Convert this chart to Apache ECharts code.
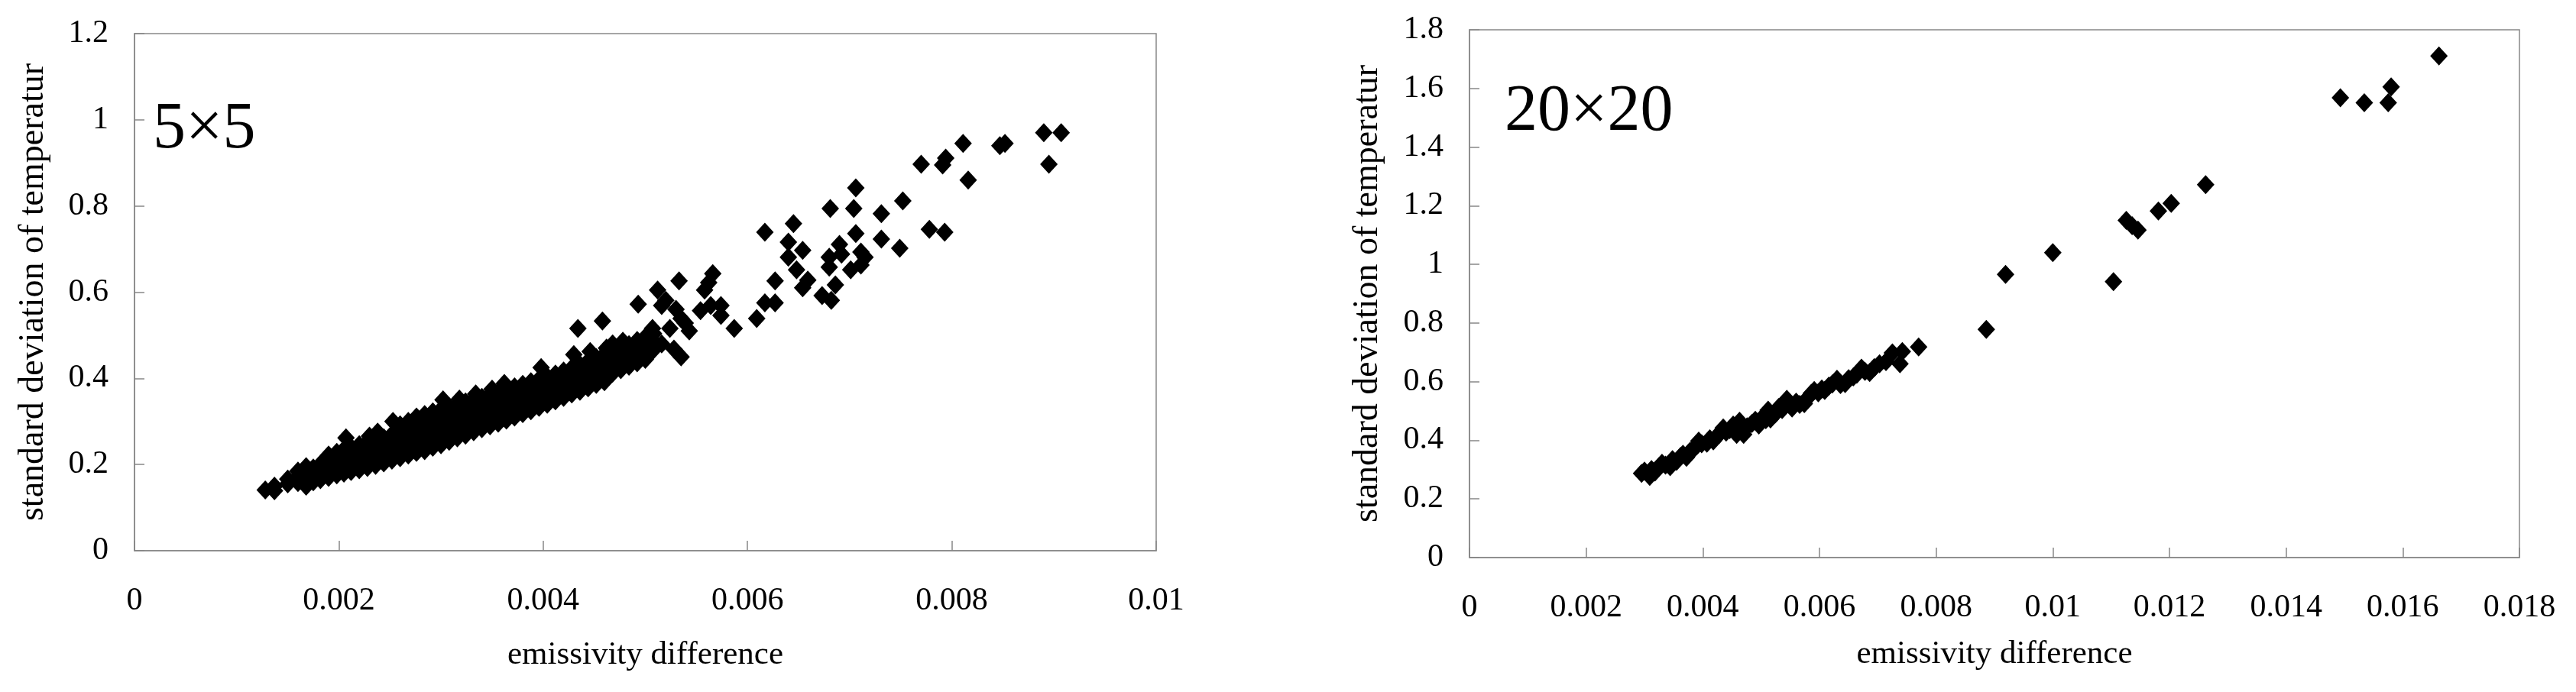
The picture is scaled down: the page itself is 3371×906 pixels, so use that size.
<!DOCTYPE html>
<html>
<head>
<meta charset="utf-8">
<title>emissivity difference - standard deviation of temperature</title>
<script src="https://cdn.jsdelivr.net/npm/echarts/dist/echarts.min.js"></script>
<style>
  html, body { margin: 0; padding: 0; background: #fff; }
  #chart { width: 3371px; height: 906px; }
</style>
</head>
<body>
<div id="chart"></div>
<script type="text/javascript">
var FONT = '"Liberation Serif", "Times New Roman", serif';

var panelLabels = ['5×5', '20×20'];
var xTitle = 'emissivity difference';
var yTitle = 'standard deviation of temperature';
var xMax = [0.01, 0.018];
var yMax = [1.2, 1.8];
var xStep = 0.002;
var yStep = 0.2;

// 5x5 : dense band
var band5 = [
  [0.00128,0.141],[0.00137,0.139],[0.00137,0.150],[0.00150,0.155],[0.00150,0.166],
  [0.00160,0.158],[0.00160,0.172],[0.00160,0.185],[0.00168,0.150],[0.00168,0.168],[0.00168,0.195],
  [0.00175,0.160],[0.00175,0.178],[0.00175,0.192],[0.00182,0.165],[0.00182,0.181],[0.00182,0.201],
  [0.00190,0.170],[0.00190,0.188],[0.00190,0.205],[0.00190,0.222],
  [0.00198,0.176],[0.00198,0.192],[0.00198,0.210],[0.00198,0.228],
  [0.00205,0.180],[0.00205,0.196],[0.00205,0.214],[0.00205,0.235],[0.00207,0.262],
  [0.00212,0.184],[0.00212,0.200],[0.00212,0.220],[0.00212,0.240],
  [0.00220,0.188],[0.00220,0.205],[0.00220,0.226],[0.00220,0.246],
  [0.00228,0.193],[0.00228,0.212],[0.00228,0.231],[0.00228,0.252],[0.00230,0.266],
  [0.00236,0.198],[0.00236,0.218],[0.00236,0.238],[0.00236,0.258],[0.00238,0.275],
  [0.00244,0.204],[0.00244,0.224],[0.00244,0.244],[0.00244,0.262],
  [0.00252,0.210],[0.00252,0.230],[0.00252,0.250],[0.00252,0.270],[0.00253,0.300],
  [0.00260,0.216],[0.00260,0.236],[0.00260,0.256],[0.00260,0.276],[0.00260,0.292],
  [0.00268,0.222],[0.00268,0.242],[0.00268,0.262],[0.00268,0.282],[0.00268,0.300],
  [0.00276,0.228],[0.00276,0.249],[0.00276,0.268],[0.00276,0.288],[0.00276,0.310],
  [0.00284,0.232],[0.00284,0.254],[0.00284,0.274],[0.00284,0.294],[0.00284,0.316],
  [0.00292,0.240],[0.00292,0.260],[0.00292,0.280],[0.00292,0.300],[0.00292,0.322],
  [0.00300,0.246],[0.00300,0.266],[0.00300,0.286],[0.00300,0.306],[0.00300,0.328],[0.00302,0.350],
  [0.00308,0.254],[0.00308,0.272],[0.00308,0.292],[0.00308,0.312],[0.00308,0.334],
  [0.00316,0.262],[0.00316,0.280],[0.00316,0.298],[0.00316,0.318],[0.00316,0.340],[0.00318,0.352],
  [0.00324,0.268],[0.00324,0.286],[0.00324,0.305],[0.00324,0.324],[0.00324,0.345],
  [0.00332,0.276],[0.00332,0.293],[0.00332,0.311],[0.00332,0.330],[0.00332,0.350],[0.00334,0.364],
  [0.00340,0.283],[0.00340,0.300],[0.00340,0.318],[0.00340,0.337],[0.00340,0.356],
  [0.00348,0.290],[0.00348,0.306],[0.00348,0.324],[0.00348,0.343],[0.00348,0.362],[0.00350,0.375],
  [0.00356,0.296],[0.00356,0.313],[0.00356,0.331],[0.00356,0.349],[0.00356,0.368],
  [0.00364,0.303],[0.00364,0.320],[0.00364,0.337],[0.00364,0.356],[0.00364,0.374],[0.00362,0.388],
  [0.00372,0.310],[0.00372,0.327],[0.00372,0.344],[0.00372,0.362],[0.00372,0.380],
  [0.00380,0.318],[0.00380,0.334],[0.00380,0.351],[0.00380,0.368],[0.00380,0.386],
  [0.00388,0.325],[0.00388,0.341],[0.00388,0.358],[0.00388,0.375],[0.00388,0.392],
  [0.00396,0.333],[0.00396,0.348],[0.00396,0.364],[0.00396,0.381],[0.00396,0.398],[0.00398,0.425],
  [0.00404,0.340],[0.00404,0.356],[0.00404,0.371],[0.00404,0.388],[0.00404,0.404],
  [0.00412,0.348],[0.00412,0.363],[0.00412,0.378],[0.00412,0.394],[0.00412,0.410],
  [0.00420,0.356],[0.00420,0.371],[0.00420,0.386],[0.00420,0.401],[0.00420,0.417],
  [0.00428,0.364],[0.00428,0.379],[0.00428,0.394],[0.00428,0.408],[0.00428,0.424],[0.00430,0.455],
  [0.00436,0.370],[0.00436,0.386],[0.00436,0.401],[0.00436,0.416],[0.00436,0.432],
  [0.00444,0.378],[0.00444,0.394],[0.00444,0.409],[0.00444,0.424],[0.00444,0.440],[0.00446,0.462],
  [0.00452,0.386],[0.00452,0.401],[0.00452,0.417],[0.00452,0.432],[0.00452,0.448],
  [0.00460,0.392],[0.00460,0.408],[0.00460,0.424],[0.00460,0.440],[0.00460,0.456],[0.00462,0.470],
  [0.00468,0.412],[0.00468,0.430],[0.00468,0.448],[0.00468,0.464],[0.00468,0.480],
  [0.00476,0.420],[0.00476,0.438],[0.00476,0.456],[0.00476,0.472],[0.00478,0.486],
  [0.00484,0.428],[0.00484,0.446],[0.00484,0.462],[0.00484,0.478],
  [0.00492,0.436],[0.00492,0.454],[0.00492,0.470],[0.00492,0.488],
  [0.00500,0.444],[0.00500,0.462],[0.00500,0.478],[0.00500,0.496],
  [0.00508,0.466],[0.00508,0.486],[0.00508,0.504]
];

// 5x5 : scattered points above x = 0.005
var scatter5 = [
  [0.00434,0.516],[0.00458,0.533],[0.00493,0.572],
  [0.00507,0.516],[0.00512,0.605],[0.00516,0.569],[0.00516,0.480],[0.00520,0.581],
  [0.00524,0.516],[0.00528,0.468],[0.00530,0.560],[0.00533,0.626],[0.00535,0.539],
  [0.00535,0.450],[0.00539,0.528],[0.00543,0.510],[0.00554,0.557],[0.00558,0.605],
  [0.00562,0.622],[0.00564,0.569],[0.00566,0.643],[0.00574,0.569],[0.00574,0.546],
  [0.00587,0.516],[0.00609,0.539],[0.00617,0.739],[0.00617,0.575],[0.00627,0.626],
  [0.00627,0.575],[0.00640,0.716],[0.00640,0.681],[0.00645,0.759],[0.00648,0.652],
  [0.00654,0.697],[0.00654,0.610],[0.00659,0.628],[0.00673,0.592],[0.00680,0.681],
  [0.00680,0.658],[0.00681,0.794],[0.00682,0.581],[0.00686,0.617],[0.00690,0.711],
  [0.00692,0.688],[0.00701,0.652],[0.00704,0.794],[0.00706,0.842],[0.00706,0.736],
  [0.00711,0.693],[0.00711,0.663],[0.00715,0.681],[0.00731,0.782],[0.00731,0.723],
  [0.00749,0.702],[0.00752,0.812],[0.00770,0.897],[0.00778,0.746],[0.00791,0.895],
  [0.00793,0.739],[0.00794,0.911],[0.00811,0.945],[0.00816,0.860],[0.00847,0.940],
  [0.00852,0.945],[0.00890,0.970],[0.00895,0.897],[0.00907,0.970]
];

// 20x20 : narrow band
var band20 = [
  [0.00295,0.287],[0.00300,0.295],[0.00309,0.277],[0.00312,0.300],[0.00318,0.292],
  [0.00325,0.310],[0.00330,0.322],[0.00336,0.315],[0.00344,0.310],[0.00348,0.334],
  [0.00355,0.328],[0.00362,0.345],[0.00366,0.352],[0.00372,0.342],[0.00378,0.362],
  [0.00385,0.372],[0.00390,0.382],[0.00393,0.397],[0.00398,0.388],[0.00407,0.390],
  [0.00412,0.405],[0.00418,0.398],[0.00424,0.415],[0.00428,0.420],[0.00435,0.442],
  [0.00440,0.428],[0.00446,0.436],[0.00452,0.452],[0.00458,0.420],[0.00463,0.465],
  [0.00470,0.420],[0.00476,0.446],[0.00484,0.457],[0.00490,0.468],[0.00496,0.452],
  [0.00503,0.480],[0.00508,0.470],[0.00512,0.503],[0.00516,0.473],[0.00524,0.490],
  [0.00530,0.512],[0.00536,0.505],[0.00544,0.540],[0.00548,0.522],[0.00553,0.510],
  [0.00560,0.530],[0.00566,0.522],[0.00574,0.525],[0.00580,0.545],[0.00586,0.560],
  [0.00591,0.570],[0.00598,0.562],[0.00604,0.575],[0.00609,0.570],[0.00616,0.585],
  [0.00622,0.592],[0.00630,0.608],[0.00636,0.590],[0.00644,0.593],[0.00650,0.610],
  [0.00658,0.616],[0.00664,0.625],[0.00672,0.646],[0.00678,0.635],[0.00686,0.631],
  [0.00694,0.648],[0.00703,0.661],[0.00714,0.668],[0.00725,0.698],[0.00738,0.661],
  [0.00742,0.703],[0.00770,0.718]
];

// 20x20 : isolated points
var scatter20 = [
  [0.00886,0.778],[0.00919,0.966],[0.01000,1.040],[0.01104,0.941],[0.01126,1.150],
  [0.01136,1.132],[0.01146,1.117],[0.01181,1.182],[0.01203,1.208],[0.01262,1.272],
  [0.01493,1.568],[0.01534,1.551],[0.01575,1.551],[0.01580,1.605],[0.01662,1.711]
];

var axisColor = '#888';

function makeX(i, gap) {
  return {
    type: 'value', gridIndex: i, min: 0, max: xMax[i], interval: xStep,
    axisLine: { show: true, onZero: false, lineStyle: { color: axisColor, width: 1.5 } },
    axisTick: { show: true, inside: true, length: 13, lineStyle: { color: axisColor, width: 1.5 } },
    axisLabel: { color: '#000', fontFamily: FONT, fontSize: 42, margin: 45 },
    splitLine: { show: false },
    name: xTitle, nameLocation: 'middle', nameGap: gap,
    nameTextStyle: { color: '#000', fontFamily: FONT, fontSize: 43 }
  };
}

function makeY(i, gap) {
  return {
    type: 'value', gridIndex: i, min: 0, max: yMax[i], interval: yStep,
    axisLine: { show: true, onZero: false, lineStyle: { color: axisColor, width: 1.5 } },
    axisTick: { show: true, inside: true, length: 13, lineStyle: { color: axisColor, width: 1.5 } },
    axisLabel: { color: '#000', fontFamily: FONT, fontSize: 42, margin: 34 },
    splitLine: { show: false },
    name: yTitle, nameLocation: 'middle', nameGap: gap,
    nameTruncate: { maxWidth: 607, ellipsis: '' },
    nameTextStyle: { color: '#000', fontFamily: FONT, fontSize: 46, width: 607, overflow: 'truncate', ellipsis: '' }
  };
}

function makeSeries(i, data) {
  return {
    type: 'scatter', xAxisIndex: i, yAxisIndex: i, data: data,
    symbol: 'diamond', symbolSize: [23, 25],
    itemStyle: { color: '#000', opacity: 1 },
    silent: true
  };
}

var chart = echarts.init(document.getElementById('chart'));
chart.setOption({
  animation: false,
  backgroundColor: '#fff',
  title: [
    { text: panelLabels[0], left: 200, top: 127, padding: 0,
      textStyle: { fontFamily: FONT, fontSize: 86, fontWeight: 'normal', color: '#000' } },
    { text: panelLabels[1], left: 1969, top: 104, padding: 0,
      textStyle: { fontFamily: FONT, fontSize: 86, fontWeight: 'normal', color: '#000' } }
  ],
  grid: [
    { left: 176, top: 44, width: 1337, height: 677, show: true, borderColor: axisColor, borderWidth: 1.5 },
    { left: 1923, top: 39, width: 1374, height: 691, show: true, borderColor: axisColor, borderWidth: 1.5 }
  ],
  xAxis: [makeX(0, 115), makeX(1, 105)],
  yAxis: [makeY(0, 109), makeY(1, 110)],
  series: [
    makeSeries(0, band5.concat(scatter5)),
    makeSeries(1, band20.concat(scatter20))
  ]
});
</script>
</body>
</html>
